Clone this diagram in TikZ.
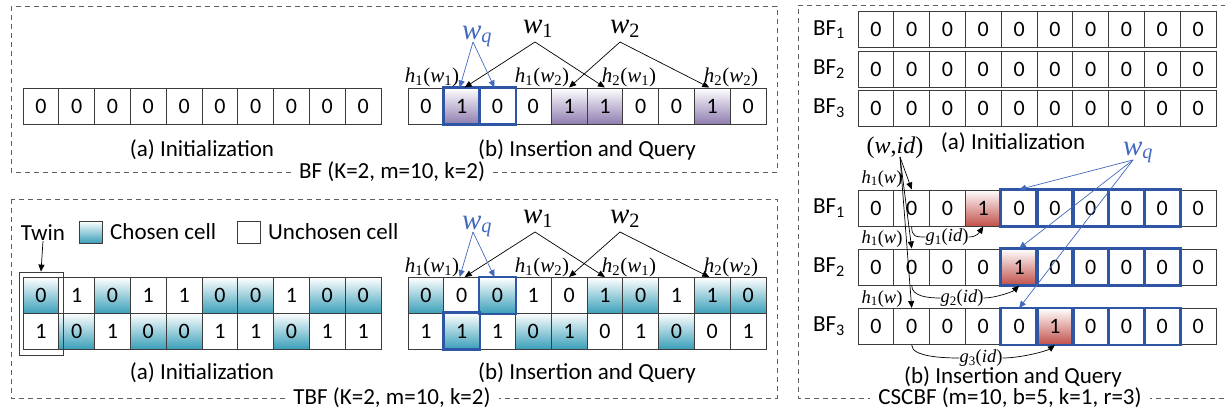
\documentclass[tikz,border=0pt]{standalone}
\usepackage{fontspec}
\setmainfont{Carlito}
\newfontfamily\tms{Liberation Serif}
\usetikzlibrary{arrows.meta}
\definecolor{cellline}{HTML}{3C3C3C}
\definecolor{purp}{HTML}{8F7DB0}
\definecolor{tealc}{HTML}{3A9FB9}
\definecolor{redc}{HTML}{C2504A}
\definecolor{qblue}{HTML}{2F55A5}
\definecolor{ablue}{HTML}{4169BE}
\definecolor{dashg}{HTML}{5F5F5F}
\tikzset{
  cell/.style={draw=cellline, line width=1pt, minimum width=35.8pt, minimum height=36pt, inner sep=0pt, font=\fontsize{22}{24}\selectfont},
  cellN/.style={},
  cellP/.style={top color=white, middle color=purp!25!white, bottom color=purp},
  cellT/.style={top color=white, middle color=tealc!40!white, bottom color=tealc},
  cellR/.style={top color=white, middle color=redc!40!white, bottom color=redc},
  qbox/.style={draw=qblue, line width=2.6pt},
  arr/.style={-{Triangle[length=7pt,width=6pt]}, line width=0.7pt, draw=black},
  barr/.style={-{Triangle[length=7pt,width=6pt]}, line width=0.7pt, draw=ablue},
  dbox/.style={draw=dashg, line width=1pt, dash pattern=on 5pt off 4pt},
  ttl/.style={fill=white, font=\fontsize{23}{25}\selectfont, inner xsep=8pt, inner ysep=1pt},
  captxt/.style={font=\fontsize{23}{25}\selectfont, inner sep=0pt},
  hlab/.style={font=\tms\fontsize{21}{23}\selectfont, inner sep=0pt, anchor=base},
  hsmall/.style={font=\tms\fontsize{18.5}{20}\selectfont, inner sep=0pt, anchor=base},
  wlab/.style={font=\tms\itshape\fontsize{29}{30}\selectfont, inner sep=0pt, anchor=base},
}
\newcommand\cellrow[4]{%
  \foreach \cv/\ck [count=\ci from 0] in {#4}{%
    \node[cell,\ck] (#1-\ci) at ({#2+17.9+35.8*\ci},#3) {\cv};}}
\newcommand\insq[2]{%
  \node[wlab] (#1w1) at (538,{33+#2}) {w\textsubscript{\upshape 1}};
  \node[wlab] (#1w2) at (625,{33+#2}) {w\textsubscript{\upshape 2}};
  \node[wlab,text=ablue] (#1wq) at (477,{39+#2}) {w\textsubscript{q}};
  \node[hlab] (#1h11) at (432,{82+#2}) {\textit{h}\textsubscript{1}(\textit{w}\textsubscript{1})};
  \node[hlab] (#1h12) at (542,{82+#2}) {\textit{h}\textsubscript{1}(\textit{w}\textsubscript{2})};
  \node[hlab] (#1h21) at (629,{82+#2}) {\textit{h}\textsubscript{2}(\textit{w}\textsubscript{1})};
  \node[hlab] (#1h22) at (731,{82+#2}) {\textit{h}\textsubscript{2}(\textit{w}\textsubscript{2})};
  \draw[arr] ([xshift=-3pt,yshift=-9pt]#1w1.base) -- ([xshift=3pt]#1-1.north);
  \draw[arr] ([xshift=-3pt,yshift=-9pt]#1w1.base) -- (#1-5.north);
  \draw[arr] ([xshift=-5pt,yshift=-9pt]#1w2.base) -- (#1-4.north);
  \draw[arr] ([xshift=-5pt,yshift=-9pt]#1w2.base) -- ([xshift=-3pt]#1-8.north);
  \draw[barr] ([xshift=-4pt,yshift=-3pt]#1wq.base) -- ([xshift=-2pt]#1-1.north);
  \draw[barr] ([xshift=-4pt,yshift=-3pt]#1wq.base) -- ([xshift=-3pt]#1-2.north);
}
\begin{document}
\begin{tikzpicture}[x=1pt,y=-1pt]
\fill[white] (0,0) rectangle (1225,418);
\useasboundingbox (0,0) rectangle (1225,418);
% frames
\draw[dbox] (11,6) rectangle (777,172);
\draw[dbox] (11,199) rectangle (777,398);
\draw[dbox] (1226,5) -- (798,5) -- (798,398) -- (1226,398);
\node[ttl] (bft) at (392,172) {BF (K=2, m=10, k=2)};
\node[ttl] (tbft) at (392,398) {TBF (K=2, m=10, k=2)};
\node[ttl] (cst) at (1010,398) {CSCBF (m=10, b=5, k=1, r=3)};
% BF
\cellrow{bfa}{23}{106}{0/cellN,0/cellN,0/cellN,0/cellN,0/cellN,0/cellN,0/cellN,0/cellN,0/cellN,0/cellN}
\cellrow{bfb}{408}{106}{0/cellN,1/cellP,0/cellN,0/cellN,1/cellP,1/cellP,0/cellN,0/cellN,1/cellP,0/cellN}
\draw[qbox] (bfb-1.north west) rectangle (bfb-1.south east);
\draw[qbox] (bfb-2.north west) rectangle (bfb-2.south east);
\insq{bfb}{0}
\node[captxt] (bfacap) at (202,150) {(a) Initialization};
\node[captxt] (bfbcap) at (587,150) {(b) Insertion and Query};
% TBF
\node[captxt] (twinl) at (43,233) {Twin};
\node[draw=cellline, line width=1pt, cellT, minimum width=23pt, minimum height=22pt, inner sep=0pt] (chs) at (90.5,232) {};
\node[captxt, anchor=west] (chl) at (110,232) {Chosen cell};
\node[draw=cellline, line width=1pt, minimum width=23pt, minimum height=22pt, inner sep=0pt] (uchs) at (249,232) {};
\node[captxt, anchor=west] (uchl) at (268,232) {Unchosen cell};
\cellrow{tba1}{23}{295.5}{0/cellT,1/cellN,0/cellT,1/cellN,1/cellN,0/cellT,0/cellT,1/cellN,0/cellT,0/cellT}
\cellrow{tba2}{23}{331}{1/cellN,0/cellT,1/cellN,0/cellT,0/cellT,1/cellN,1/cellN,0/cellT,1/cellN,1/cellN}
\node[draw=cellline, line width=0.8pt, minimum width=44pt, minimum height=83pt, inner sep=0pt] (twin) at (41,313.5) {};
\draw[arr] (twinl.south) -- (twin.north);
\cellrow{tbb1}{408}{295.5}{0/cellT,0/cellN,0/cellT,1/cellN,0/cellN,1/cellT,0/cellT,1/cellN,1/cellT,0/cellT}
\cellrow{tbb2}{408}{331}{1/cellN,1/cellT,1/cellN,0/cellT,1/cellT,0/cellN,1/cellN,0/cellT,0/cellN,1/cellN}
\draw[qbox] (tbb1-2.north west) rectangle (tbb1-2.south east);
\draw[qbox] (tbb2-1.north west) rectangle (tbb2-1.south east);
\insq{tbb1}{190}
\node[captxt] (tbacap) at (202,373) {(a) Initialization};
\node[captxt] (tbbcap) at (587,373) {(b) Insertion and Query};
% CSCBF (a)
\cellrow{csa1}{858}{29.5}{0/cellN,0/cellN,0/cellN,0/cellN,0/cellN,0/cellN,0/cellN,0/cellN,0/cellN,0/cellN}
\cellrow{csa2}{858}{69}{0/cellN,0/cellN,0/cellN,0/cellN,0/cellN,0/cellN,0/cellN,0/cellN,0/cellN,0/cellN}
\cellrow{csa3}{858}{108.5}{0/cellN,0/cellN,0/cellN,0/cellN,0/cellN,0/cellN,0/cellN,0/cellN,0/cellN,0/cellN}
\node[captxt] (la1) at (829,29.5) {BF\textsubscript{1}};
\node[captxt] (la2) at (829,69) {BF\textsubscript{2}};
\node[captxt] (la3) at (829,108.5) {BF\textsubscript{3}};
\node[captxt] (csacap) at (1013,143) {(a) Initialization};
% CSCBF (b)
\cellrow{csb1}{858}{208}{0/cellN,0/cellN,0/cellN,1/cellR,0/cellN,0/cellN,0/cellN,0/cellN,0/cellN,0/cellN}
\cellrow{csb2}{858}{267}{0/cellN,0/cellN,0/cellN,0/cellN,1/cellR,0/cellN,0/cellN,0/cellN,0/cellN,0/cellN}
\cellrow{csb3}{858}{326.5}{0/cellN,0/cellN,0/cellN,0/cellN,0/cellN,1/cellR,0/cellN,0/cellN,0/cellN,0/cellN}
\foreach \r in {1,2,3}{\foreach \j in {4,...,8}{\draw[qbox] (csb\r-\j.north west) rectangle (csb\r-\j.south east);}}
\node[captxt] (lb1) at (829,208) {BF\textsubscript{1}};
\node[captxt] (lb2) at (829,267) {BF\textsubscript{2}};
\node[captxt] (lb3) at (829,326.5) {BF\textsubscript{3}};
\node[captxt] (csbcap) at (1013,377) {(b) Insertion and Query};
\node[hlab, font=\tms\fontsize{24}{26}\selectfont] (wid) at (895,153) {(\textit{w},\textit{id})};
\node[wlab,text=ablue] (cwq) at (1138,155) {w\textsubscript{q}};
\node[hsmall] (ch1) at (882,183) {\textit{h}\textsubscript{1}(\textit{w})};
\node[hsmall] (ch2) at (882,243) {\textit{h}\textsubscript{1}(\textit{w})};
\node[hsmall] (ch3) at (882,303) {\textit{h}\textsubscript{1}(\textit{w})};
\draw[arr] ([xshift=5pt,yshift=-4pt]wid.base) -- (csb1-1.north);
\draw[arr] ([xshift=5pt,yshift=-4pt]wid.base) -- (csb2-1.north);
\draw[arr] ([xshift=5pt,yshift=-4pt]wid.base) -- (csb3-1.north);
\draw[barr] ([xshift=-5pt,yshift=-5pt]cwq.base) -- (csb1-4.north);
\draw[barr] ([xshift=-5pt,yshift=-5pt]cwq.base) -- (csb2-4.north);
\draw[barr] ([xshift=-5pt,yshift=-5pt]cwq.base) -- (csb3-4.north);
\node[hsmall, anchor=center] (g1) at (947,237) {\textit{g}\textsubscript{1}(\textit{id})};
\node[hsmall, anchor=center] (g2) at (962,298) {\textit{g}\textsubscript{2}(\textit{id})};
\node[hsmall, anchor=center] (g3) at (981,358) {\textit{g}\textsubscript{3}(\textit{id})};
\draw[line width=0.7pt] (csb1-1.south) .. controls +(0,10) and +(-10,0) .. (g1.west);
\draw[arr] (g1.east) .. controls +(8,0) and +(-4,6) .. (csb1-3.south);
\draw[line width=0.7pt] (csb2-1.south) .. controls +(0,11) and +(-12,0) .. (g2.west);
\draw[arr] (g2.east) .. controls +(12,0) and +(-6,6) .. (csb2-4.south);
\draw[line width=0.7pt] (csb3-1.south) .. controls +(0,12) and +(-15,0) .. (g3.west);
\draw[arr] (g3.east) .. controls +(18,0) and +(-8,6) .. (csb3-5.south);
\end{tikzpicture}
\end{document}
